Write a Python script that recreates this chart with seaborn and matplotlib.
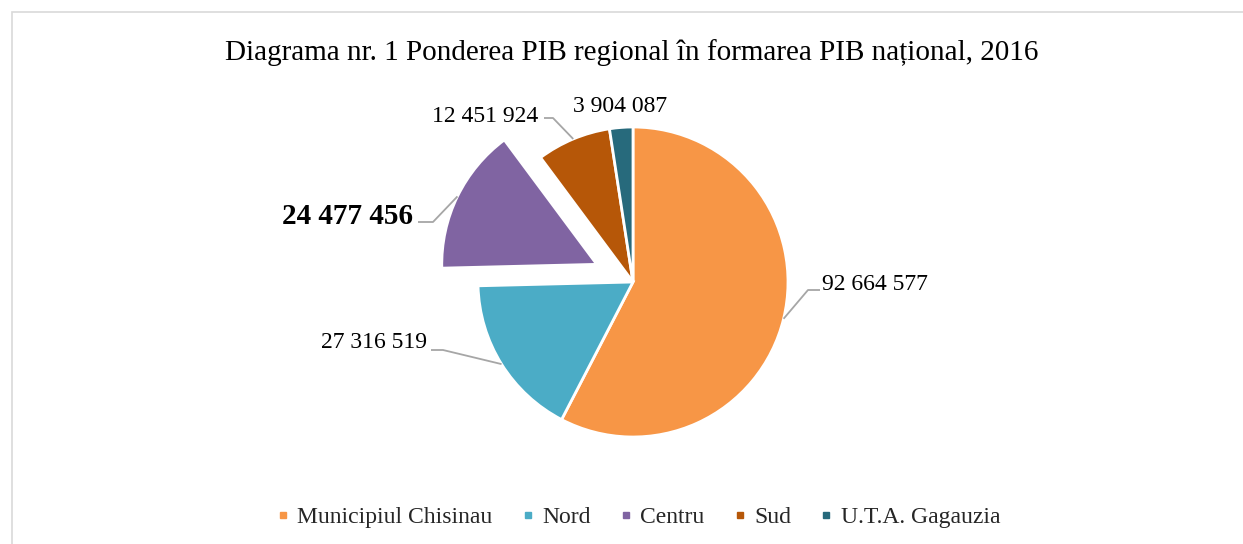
import numpy as np
import matplotlib
matplotlib.use("Agg")
import matplotlib.pyplot as plt
from matplotlib.patches import Rectangle
from matplotlib.lines import Line2D
import seaborn as sns

sns.set_theme(style="white")
plt.rcParams['font.family'] = ['Liberation Serif', 'DejaVu Serif']

regions = ['Municipiul Chisinau', 'Nord', 'Centru', 'Sud', 'U.T.A. Gagauzia']
pib = [92664577, 27316519, 24477456, 12451924, 3904087]
labels = ['92 664 577', '27 316 519', '24 477 456', '12 451 924', '3 904 087']
colors = ['#F79646', '#4BACC6', '#8064A2', '#B65708', '#276A7C']
explode = [0, 0, 0.26, 0, 0]

W, H = 1243, 544
cx, cy, R = 633, 282, 155   # pie centre / radius in pixels

fig = plt.figure(figsize=(W / 100, H / 100), dpi=100)
ax = fig.add_axes([0, 0, 1, 1])

wedges, _ = ax.pie(pib, colors=colors, startangle=90, counterclock=False,
                   explode=explode, radius=1,
                   wedgeprops=dict(edgecolor='white', linewidth=2))
ax.set_xlim(-cx / R, (W - cx) / R)
ax.set_ylim((cy - H) / R, cy / R)
ax.axis('off')


def px(x, y):
    return (x - cx) / R, (cy - y) / R


def edge(i, r=1.0):
    w = wedges[i]
    a = np.deg2rad((w.theta1 + w.theta2) / 2)
    c = w.center
    return c[0] + r * np.cos(a), c[1] + r * np.sin(a)


lc = '#a6a6a6'
# label text position, elbow, line end, alignment
layout = [
    (px(822, 284), px(808, 290), px(820, 290), 'left'),
    (px(427, 342), px(443, 350), px(431, 350), 'right'),
    (px(413, 216), px(433, 222), px(418, 222), 'right'),
    (px(538, 116), px(553, 118), px(544, 118), 'right'),
    (px(620, 107), None, None, 'center'),
]
for i, (tpos, elbow, lend, ha) in enumerate(layout):
    if elbow is not None:
        e = edge(i)
        ax.plot([e[0], elbow[0], lend[0]], [e[1], elbow[1], lend[1]],
                color=lc, lw=1.3, solid_capstyle='butt')
    bold = i == 2
    ax.text(tpos[0], tpos[1], labels[i], ha=ha, va='center',
            fontsize=21 if bold else 17,
            fontweight='bold' if bold else 'normal', color='black')

fig.text(632 / W, 1 - 53 / H,
         'Diagrama nr. 1 Ponderea PIB regional în formarea PIB național, 2016',
         ha='center', va='center', fontsize=21, color='black')

handles = [Line2D([], [], marker='s', linestyle='', markersize=4.5,
                  markerfacecolor=c, markeredgecolor=c) for c in colors]
fig.legend(handles, regions, loc='center', bbox_to_anchor=(638 / W, 1 - 517 / H),
           ncol=5, frameon=False, fontsize=17, handlelength=0.6,
           handletextpad=0.3, columnspacing=1.2)

fig.add_artist(Rectangle((12 / W, -0.1), 2, (H - 12) / H + 0.1,
                         transform=fig.transFigure, fill=False,
                         edgecolor='#d9d9d9', linewidth=1.2))

fig.savefig('out.png', dpi=100)
